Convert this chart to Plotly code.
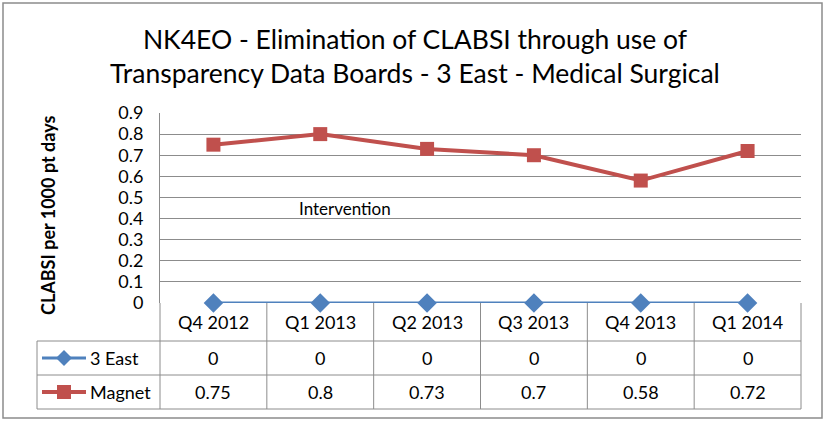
import plotly.graph_objects as go

categories = ["Q4 2012", "Q1 2013", "Q2 2013", "Q3 2013", "Q4 2013", "Q1 2014"]
east3 = [0, 0, 0, 0, 0, 0]
magnet = [0.75, 0.8, 0.73, 0.7, 0.58, 0.72]
y_ticks = [0, 0.1, 0.2, 0.3, 0.4, 0.5, 0.6, 0.7, 0.8, 0.9]
y_tick_labels = ["0", "0.1", "0.2", "0.3", "0.4", "0.5", "0.6", "0.7", "0.8", "0.9"]
series_names = ["3 East", "Magnet"]

BLUE = "#4F81BD"
RED = "#C0504D"
GRID = "#8C8C8C"
FONT = "Lato, sans-serif"

W, H = 827, 422
ML, MR, MT, MB = 160, 26, 113, 119
PW, PH = W - ML - MR, H - MT - MB

def px_x(p):
    return (p - ML) / PW

def px_y(p):
    return (H - MB - p) / PH

fig = go.Figure()
fig.add_trace(go.Scatter(x=categories, y=east3, mode="lines+markers", name="3 East",
                         line=dict(color=BLUE, width=3),
                         marker=dict(symbol="diamond", size=15, color=BLUE),
                         cliponaxis=False, showlegend=False))
fig.add_trace(go.Scatter(x=categories, y=magnet, mode="lines+markers", name="Magnet",
                         line=dict(color=RED, width=4),
                         marker=dict(symbol="square", size=14, color=RED),
                         cliponaxis=False, showlegend=False))

shapes = []
annotations = []

# outer chart border
shapes.append(dict(type="rect", xref="paper", yref="paper",
                   x0=px_x(3), x1=px_x(822), y0=px_y(418), y1=px_y(3),
                   line=dict(color="#8C8C8C", width=1.5), layer="below"))

# data table geometry
row_tops = [px_y(303), px_y(341), px_y(375), px_y(409)]
tbl_left = px_x(37)
n = len(categories)
for yy in row_tops[1:]:
    shapes.append(dict(type="line", xref="paper", yref="paper", x0=tbl_left, x1=1,
                       y0=yy, y1=yy, line=dict(color=GRID, width=1)))
shapes.append(dict(type="line", xref="paper", yref="paper", x0=tbl_left, x1=tbl_left,
                   y0=row_tops[1], y1=row_tops[3], line=dict(color=GRID, width=1)))
for k in range(n + 1):
    xx = k / n
    shapes.append(dict(type="line", xref="paper", yref="paper", x0=xx, x1=xx,
                       y0=0, y1=row_tops[3], line=dict(color=GRID, width=1)))

TF = dict(size=18, color="black", family=FONT)
for c in categories:
    annotations.append(dict(x=c, xref="x", y=(row_tops[0] + row_tops[1]) / 2, yref="paper",
                            xanchor="center", yanchor="middle",
                            text=c, showarrow=False, font=TF))
for r, vals in enumerate([east3, magnet]):
    yc = (row_tops[r + 1] + row_tops[r + 2]) / 2
    for c, v in zip(categories, vals):
        annotations.append(dict(x=c, xref="x", y=yc, yref="paper", text=f"{v:g}",
                                xanchor="center", yanchor="middle",
                                showarrow=False, font=TF))
    col = [BLUE, RED][r]
    shapes.append(dict(type="line", xref="paper", yref="paper", x0=px_x(42), x1=px_x(86),
                       y0=yc, y1=yc, line=dict(color=col, width=[3, 4][r])))
    if r == 0:
        shapes.append(dict(type="path", xref="paper", yref="paper", xsizemode="pixel",
                           ysizemode="pixel", xanchor=px_x(64), yanchor=yc,
                           path="M -8 0 L 0 8 L 8 0 L 0 -8 Z", fillcolor=col, line=dict(width=0)))
    else:
        shapes.append(dict(type="rect", xref="paper", yref="paper", xsizemode="pixel",
                           ysizemode="pixel", xanchor=px_x(64), yanchor=yc,
                           x0=-7, x1=7, y0=-7, y1=7, fillcolor=col, line=dict(width=0)))
    annotations.append(dict(x=px_x(88), xref="paper", y=yc, yref="paper", text=series_names[r],
                            xanchor="left", yanchor="middle", showarrow=False, font=TF))

annotations.append(dict(x=1.23, xref="x", y=0.45, yref="y", text="Intervention", showarrow=False,
                        xanchor="center", yanchor="middle",
                        font=dict(size=17, color="black", family=FONT)))

annotations.append(dict(x=px_x(48), xref="paper", y=px_y(216), yref="paper",
                        xanchor="center", yanchor="middle",
                        text="<b>CLABSI per 1000 pt days</b>", textangle=-90, showarrow=False,
                        font=dict(size=18, color="black", family=FONT)))

fig.update_layout(
    width=W, height=H,
    margin=dict(l=ML, r=MR, t=MT, b=MB),
    paper_bgcolor="white", plot_bgcolor="white",
    title=dict(text="NK4EO - Elimination of CLABSI through use of<br>Transparency Data Boards - 3 East - Medical Surgical",
               x=415 / W, xanchor="center", y=1 - 49 / H, yanchor="middle", yref="container",
               font=dict(size=26.5, color="black", family=FONT)),
    shapes=shapes, annotations=annotations,
    xaxis=dict(type="category", range=[-0.5, n - 0.5], showticklabels=False, ticks="",
               showgrid=False, zeroline=False, showline=False),
    yaxis=dict(range=[0, 0.9], tickvals=y_ticks, ticktext=y_tick_labels,
               showgrid=True, gridcolor=GRID, gridwidth=1, zeroline=False,
               showline=True, linecolor=GRID, linewidth=1, ticks="outside", ticklen=12,
               tickcolor="rgba(0,0,0,0)", tickfont=dict(size=18, color="black", family=FONT)),
)

fig.write_html("out.html", config={"displayModeBar": False},
               post_script="document.body.style.margin='0';document.body.style.overflow='hidden';")
